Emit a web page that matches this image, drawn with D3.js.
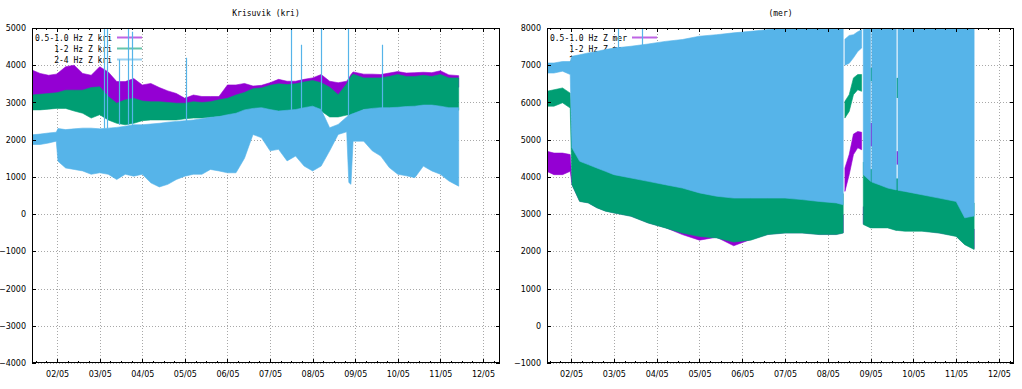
<!DOCTYPE html>
<html>
<head>
<meta charset="utf-8">
<script src="https://cdn.jsdelivr.net/npm/d3@7"></script>
<style>
body{margin:0;background:#fff}
svg{display:block}
.tlab{font-family:"DejaVu Sans",sans-serif;font-size:8px;fill:#000}
.mono{font-family:"DejaVu Sans Mono",monospace;font-size:8px;fill:#000}
</style>
</head>
<body>
<div id="chart"></div>
<script>
// tick labels
var xTickDays = [2,3,4,5,6,7,8,9,10,11,12];
var xTickLabels = ["02/05","03/05","04/05","05/05","06/05","07/05","08/05","09/05","10/05","11/05","12/05"];
var kriYTicks = [-4000,-3000,-2000,-1000,0,1000,2000,3000,4000,5000];
var merYTicks = [-1000,0,1000,2000,3000,4000,5000,6000,7000,8000];

// Krisuvik (kri): envelope (lo/hi) of each band, day of May
var kriDays = [1.41,1.6,1.8,1.98,2.02, 2.2,2.4,2.6,2.8,3.0, 3.2,3.4,3.6,3.8,4.0, 4.2,4.4,4.6,4.8,5.0,
  5.2,5.4,5.6,5.8,6.0, 6.2,6.4,6.6,6.8,7.0, 7.2,7.4,7.6,7.8,8.0, 8.2,8.4,8.6,8.8,8.85,
  8.9,8.95,9.2,9.4,9.6, 9.8,10.0,10.2,10.4,10.6, 10.8,11.0,11.2,11.43];
var kriPurpleHi = [3870,3780,3730,3760,3790, 3960,4000,3780,3730,3960, 3820,3560,3560,3640,3470, 3510,3400,3310,3240,3110,
  3200,3160,3160,3160,3470, 3470,3510,3440,3460,3530, 3620,3570,3570,3620,3660, 3750,3570,3530,3570,3650,
  3750,3820,3760,3760,3750, 3790,3830,3790,3800,3810, 3800,3850,3740,3720];
var kriPurpleLo = [2950,2970,2990,3010,3020, 3080,3080,3080,3150,3170, 2910,2730,2820,2860,2790, 2770,2770,2750,2730,2730,
  2770,2750,2770,2820,2860, 2950,3020,3120,3140,3210, 3250,3230,3250,3300,3340, 3280,3160,2960,3250,3350,
  3450,3510,3410,3410,3410, 3450,3500,3450,3450,3480, 3450,3500,3410,3410];
var kriGreenHi = [3200,3220,3240,3260,3270, 3330,3330,3330,3400,3420, 3160,2980,3070,3110,3040, 3020,3020,3000,2980,2980,
  3020,3000,3020,3070,3110, 3200,3270,3370,3390,3460, 3500,3480,3500,3550,3590, 3530,3410,3210,3500,3600,
  3700,3760,3660,3660,3660, 3700,3750,3700,3700,3730, 3700,3750,3660,3660];
var kriGreenLo = [2800,2800,2820,2840,2840, 2840,2770,2710,2580,2670, 2530,2440,2400,2440,2510, 2530,2530,2530,2530,2560,
  2580,2580,2600,2620,2650, 2680,2710,2810,2810,2770, 2750,2770,2790,2810,2860, 2770,2610,2610,2660,2660,
  2660,2670,2810,2810,2810, 2840,2840,2860,2870,2870, 2860,2840,2810,2790];
var kriBlueHi = [2130,2150,2180,2200,2300, 2270,2290,2310,2310,2290, 2310,2330,2360,2400,2400, 2420,2440,2470,2490,2510,
  2530,2560,2600,2620,2670, 2710,2800,2840,2860,2810, 2770,2790,2810,2860,2900, 2810,2320,2410,2610,2650,
  2680,2700,2810,2840,2860, 2860,2870,2890,2900,2930, 2930,2900,2860,2860];
var kriBlueLo = [1870,1870,1910,1960,1420, 1240,1200,1160,1070,1110, 1070,930,1070,1020,1070, 840,730,800,930,1020,
  1070,1070,1200,1160,1110, 1110,1500,2140,2050,1700, 1740,1430,1560,1290,1160, 1290,1700,2140,2210,850,
  800,1960,1960,1700,1560, 1250,1070,1030,980,1290, 1160,1070,890,750];
// [day, from, to]
var kriBlueSpikes = [[3.10,2300,5100],[3.17,2300,5100],[3.45,2400,4150],[3.67,2400,5100],[3.76,2400,4900],
  [5.02,2500,4200],[7.50,2800,5100],[7.73,2800,4550],[8.20,2800,5100],[8.83,2600,5100],[9.62,2850,4550]];

// (mer)
var merDays = [1.43,1.6,1.8,1.98,2.02, 2.2,2.4,2.6,2.8,3.0, 3.4,3.8,4.2,4.6,5.0, 5.4,5.8,6.2,6.6,7.0,
  7.4,7.8,8.2,8.36,8.38, 8.4,8.5,8.6,8.7,8.79, 8.81,8.83,9.0,9.015,9.03, 9.2,9.4,9.6,9.625,9.64,
  9.8,10.2,10.6,11.0,11.2, 11.42];
var merPurpleHi = [4690,4640,4640,4600,3880, 3840,3800,3670,3580,3530, 3440,3260,3130,2990,2900, 2860,2810,2860,2950,2990,
  2990,2950,2950,2990,null, 4240,4600,5150,5220,5200, null,3200,3100,3100,3100, 3100,3100,3050,3050,3050,
  3000,3000,2950,2900,2700, 2600];
var merPurpleLo = [4150,4060,4060,4150,3800, 3350,3310,3180,3090,3040, 2950,2770,2640,2450,2300, 2380,2150,2320,2460,2500,
  2500,2460,2460,2500,null, 3610,4060,4600,4780,4730, null,2740,2650,2650,2650, 2650,2650,2580,2580,2580,
  2560,2560,2500,2420,2200, 2070];
var merGreenHi = [6300,6340,6390,6250,5050, 4820,4700,4600,4500,4400, 4300,4200,4100,4000,3900, 3800,3750,3750,3750,3750,
  3700,3650,3600,3550,null, 6030,6210,6660,6750,6750, null,4400,4200,4200,4200, 4100,4000,3950,3950,3950,
  3900,3800,3750,3650,3300, 3300];
var merGreenLo = [5900,5900,5990,5850,3790, 3340,3300,3170,3080,3030, 2940,2760,2630,2490,2400, 2360,2250,2300,2450,2490,
  2490,2450,2450,2490,null, 5580,5760,6210,6340,6300, null,2720,2630,2630,2630, 2630,2630,2560,2560,2560,
  2540,2540,2490,2400,2180, 2050];
var merBlueHi = [7060,7060,7100,7100,7240, 7280,7330,7370,7420,7460, 7510,7570,7640,7690,7780, 7820,7870,7910,7960,8000,
  8100,8100,8100,8100,null, 7700,7800,7820,7900,7950, null,8100,8100,null,8100, 8100,8100,8100,null,8100,
  8100,8100,8100,8100,8100, 8100];
var merBlueLo = [6790,6790,6840,6750,4780, 4420,4330,4240,4150,4060, 3970,3880,3790,3700,3570, 3480,3430,3430,3430,3430,
  3390,3340,3300,3250,null, 7000,7050,7200,7370,7460, null,4060,3880,null,3860, 3790,3700,3650,null,3640,
  3610,3520,3430,3340,2900, 2950];
var merBlueSpikes = [[3.10,7400,8100],[3.66,7500,8100]];
var merGreenStrips = [[9.015,6570,6930],[9.625,6120,6660]];
var merPurpleStrips = [[9.015,4820,5450],[9.625,4330,4690]];

var colors = {purple:"#9400d3", green:"#009e73", blue:"#56b4e9"};

var svg = d3.select("#chart").append("svg")
    .attr("width", 1022)
    .attr("height", 389);

function draw_panel(p){
  var x = d3.scaleLinear().domain(p.xdom).range([p.left, p.right]);
  var y = d3.scaleLinear().domain(p.ydom).range([p.bottom, p.top]);
  var g = svg.append("g");

  g.append("clipPath").attr("id", "clip_" + p.id)
    .append("rect")
    .attr("x", p.left).attr("y", p.top)
    .attr("width", p.right - p.left).attr("height", p.bottom - p.top);

  // grid
  var grid = g.append("g")
      .attr("stroke", "#a8a8a8")
      .attr("stroke-width", 1)
      .attr("stroke-dasharray", "1,2")
      .attr("shape-rendering", "crispEdges");
  grid.selectAll(".gx").data(xTickDays).enter().append("line")
      .attr("x1", function(d){ return Math.round(x(d)) + 0.5; })
      .attr("x2", function(d){ return Math.round(x(d)) + 0.5; })
      .attr("y1", p.top).attr("y2", p.bottom);
  grid.selectAll(".gy").data(p.yticks).enter().append("line")
      .attr("x1", p.left).attr("x2", p.right)
      .attr("y1", function(d){ return Math.round(y(d)) + 0.5; })
      .attr("y2", function(d){ return Math.round(y(d)) + 0.5; });

  // key (drawn under the data, like the original)
  var key = g.append("g");
  p.labels.forEach(function(lab, i){
    var ky = p.top + 9.5 + i * 11;
    key.append("text").attr("class", "mono")
      .attr("x", p.left + 80).attr("y", ky + 3)
      .attr("text-anchor", "end")
      .text(lab);
    key.append("line")
      .attr("x1", p.left + 85).attr("x2", p.left + 110)
      .attr("y1", ky).attr("y2", ky)
      .attr("stroke", p.series[i].color)
      .attr("stroke-width", 2)
      .attr("opacity", 0.6);
  });

  var data = g.append("g").attr("clip-path", "url(#clip_" + p.id + ")");

  p.series.forEach(function(s){
    var area = d3.area()
        .defined(function(i){ return s.lo[i] != null && s.hi[i] != null; })
        .x(function(i){ return x(p.days[i]); })
        .y0(function(i){ return y(s.lo[i]); })
        .y1(function(i){ return y(s.hi[i]); });
    data.append("path")
        .datum(d3.range(p.days.length))
        .attr("fill", s.color)
        .attr("stroke", s.color)
        .attr("stroke-width", 0.6)
        .attr("d", area);
    if (s.strips){
      data.selectAll(null).data(s.strips).enter().append("rect")
          .attr("x", function(d){ return x(d[0]) - 0.8; })
          .attr("width", 1.6)
          .attr("y", function(d){ return y(d[2]); })
          .attr("height", function(d){ return y(d[1]) - y(d[2]); })
          .attr("fill", s.color);
    }
    if (s.spikes){
      data.selectAll(null).data(s.spikes).enter().append("line")
          .attr("x1", function(d){ return Math.round(x(d[0])) + 0.5; })
          .attr("x2", function(d){ return Math.round(x(d[0])) + 0.5; })
          .attr("y1", function(d){ return y(d[1]); })
          .attr("y2", function(d){ return y(d[2]); })
          .attr("stroke", s.color)
          .attr("stroke-width", 1.2);
    }
  });

  // axes, ticks pointing inward on all four sides
  var minor = d3.range(Math.ceil(p.xdom[0] * 4), Math.floor(p.xdom[1] * 4) + 1).map(function(k){ return k / 4; });
  var ax = g.append("g").attr("shape-rendering", "crispEdges");
  ax.append("g").attr("transform", "translate(0," + p.bottom + ")")
    .call(d3.axisBottom(x).tickValues(minor).tickSize(-2).tickSizeOuter(0).tickFormat(""));
  ax.append("g").attr("transform", "translate(0," + p.top + ")")
    .call(d3.axisTop(x).tickValues(minor).tickSize(-2).tickSizeOuter(0).tickFormat(""));
  ax.append("g").attr("class", "xlab").attr("transform", "translate(0," + p.bottom + ")")
    .call(d3.axisBottom(x).tickValues(xTickDays).tickSize(-4).tickSizeOuter(0).tickPadding(12)
      .tickFormat(function(d, i){ return xTickLabels[i]; }));
  ax.append("g").attr("transform", "translate(0," + p.top + ")")
    .call(d3.axisTop(x).tickValues(xTickDays).tickSize(-4).tickSizeOuter(0).tickFormat(""));
  ax.append("g").attr("class", "ylab").attr("transform", "translate(" + p.left + ",0)")
    .call(d3.axisLeft(y).tickValues(p.yticks).tickSize(-4).tickSizeOuter(0).tickPadding(6)
      .tickFormat(d3.format("d")));
  ax.append("g").attr("transform", "translate(" + p.right + ",0)")
    .call(d3.axisRight(y).tickValues(p.yticks).tickSize(-4).tickSizeOuter(0).tickFormat(""));
  ax.selectAll(".domain").remove();
  ax.selectAll(".tick line").attr("stroke", "#000");
  ax.selectAll(".tick text").attr("class", "tlab").attr("font-family", null).attr("font-size", null);
  ax.selectAll(".xlab .tick text").attr("dy", "0.3em");

  g.append("rect")
    .attr("x", p.left + 0.5).attr("y", p.top + 0.5)
    .attr("width", p.right - p.left - 1).attr("height", p.bottom - p.top - 1)
    .attr("fill", "none")
    .attr("stroke", "#000")
    .attr("stroke-width", 1)
    .attr("shape-rendering", "crispEdges");

  g.append("text").attr("class", "mono")
    .attr("x", (p.left + p.right) / 2).attr("y", 16)
    .attr("text-anchor", "middle")
    .text(p.title);
}

draw_panel({
  id: "kri", title: "Krisuvik (kri)",
  left: 32, right: 500, top: 28, bottom: 363,
  xdom: [1.41, 12.4], ydom: [-4000, 5000], yticks: kriYTicks,
  days: kriDays,
  labels: ["0.5-1.0 Hz Z kri", "1-2 Hz Z kri", "2-4 Hz Z kri"],
  series: [
    {color: colors.purple, lo: kriPurpleLo, hi: kriPurpleHi},
    {color: colors.green, lo: kriGreenLo, hi: kriGreenHi},
    {color: colors.blue, lo: kriBlueLo, hi: kriBlueHi, spikes: kriBlueSpikes}
  ]
});

draw_panel({
  id: "mer", title: "(mer)",
  left: 547, right: 1014, top: 28, bottom: 363,
  xdom: [1.437, 12.352], ydom: [-1000, 8000], yticks: merYTicks,
  days: merDays,
  labels: ["0.5-1.0 Hz Z mer", "1-2 Hz Z mer", "2-4 Hz Z mer"],
  series: [
    {color: colors.purple, lo: merPurpleLo, hi: merPurpleHi, strips: merPurpleStrips},
    {color: colors.green, lo: merGreenLo, hi: merGreenHi, strips: merGreenStrips},
    {color: colors.blue, lo: merBlueLo, hi: merBlueHi, spikes: merBlueSpikes}
  ]
});
</script>
</body>
</html>
